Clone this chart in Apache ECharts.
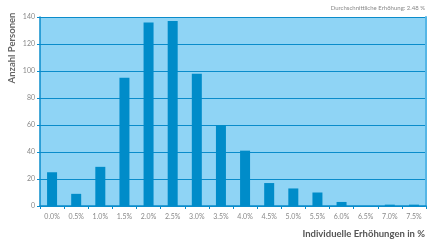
<!DOCTYPE html>
<html lang="de">
<head>
  <meta charset="UTF-8">
  <title>Individuelle Erhöhungen</title>
  <script src="https://cdn.jsdelivr.net/npm/echarts@6/dist/echarts.min.js"></script>
  <style>
    html, body { margin: 0; padding: 0; background: #fff; }
    #chart { width: 427px; height: 243px; }
  </style>
</head>
<body>
<div id="chart"></div>
<script>
  const categories = ['0.0%', '0.5%', '1.0%', '1.5%', '2.0%', '2.5%', '3.0%', '3.5%',
    '4.0%', '4.5%', '5.0%', '5.5%', '6.0%', '6.5%', '7.0%', '7.5%'];
  const persons = [25, 9, 29, 95, 136, 137, 98, 60, 41, 17, 13, 10, 3, 0, 1, 1];
  const yMin = 0, yMax = 140, yStep = 20;

  const labelFont = 'Lato, "DejaVu Sans", sans-serif';
  const lineBlue = '#0a8ccb';

  echarts.init(document.getElementById('chart')).setOption({
    animation: false,
    grid: {
      left: 40, right: 1, top: 17, bottom: 37,
      show: true, backgroundColor: '#8fd4f5', borderWidth: 0
    },
    graphic: [
      {
        type: 'text', right: 2, top: 5,
        style: { text: 'Durchschnittliche Erhöhung: 2.48 %', fill: '#888', font: '6px ' + labelFont }
      },
      {
        type: 'text', right: 2, top: 229,
        style: { text: 'Individuelle Erhöhungen in %', fill: '#555', font: 'bold 9.5px ' + labelFont }
      },
      {
        type: 'text', x: 12, y: 48, rotation: Math.PI / 2,
        style: {
          text: 'Anzahl Personen', fill: '#666', font: 'bold 9.5px ' + labelFont,
          align: 'center', verticalAlign: 'middle'
        }
      }
    ],
    xAxis: {
      type: 'category',
      data: categories,
      axisLine: { lineStyle: { color: lineBlue, width: 1.5 } },
      axisTick: { show: true, length: 3, lineStyle: { color: lineBlue } },
      axisLabel: { color: '#888', fontSize: 7, fontFamily: labelFont, margin: 7 }
    },
    yAxis: [
      {
        type: 'value', min: yMin, max: yMax, interval: yStep,
        axisLine: { show: true, lineStyle: { color: lineBlue, width: 1.5 } },
        axisTick: { show: true, length: 3, lineStyle: { color: lineBlue } },
        axisLabel: { color: '#888', fontSize: 7, fontFamily: labelFont, margin: 5 },
        splitLine: { lineStyle: { color: lineBlue, width: 1.2 } }
      },
      {
        type: 'value', min: yMin, max: yMax, interval: yStep, position: 'right',
        axisLine: { show: true, lineStyle: { color: '#55b6e6', width: 2 } },
        axisTick: { show: false }, axisLabel: { show: false }, splitLine: { show: false }
      }
    ],
    series: [{
      type: 'bar',
      data: persons,
      barWidth: 10,
      itemStyle: { color: '#008cc9' }
    }]
  });
</script>
</body>
</html>
